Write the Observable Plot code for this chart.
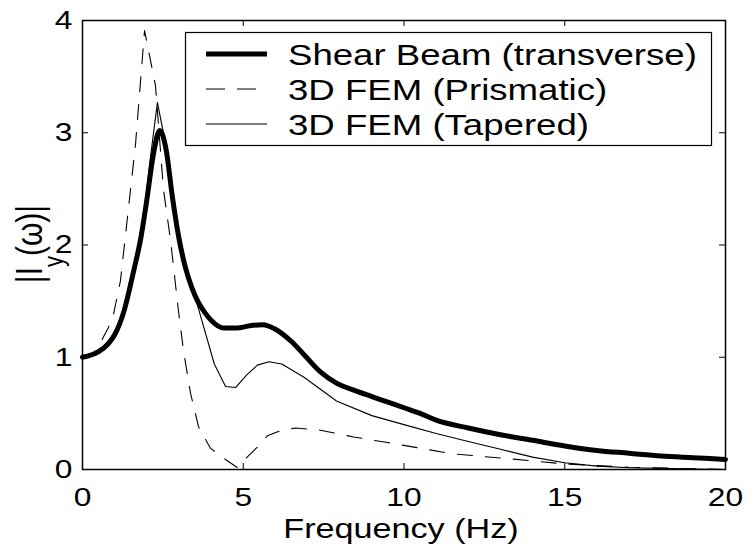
<!DOCTYPE html>
<html>
<head>
<meta charset="utf-8">
<script src="https://cdn.jsdelivr.net/npm/d3@7"></script>
<script src="https://cdn.jsdelivr.net/npm/@observablehq/plot@0.6"></script>
<style>
  html, body { margin: 0; padding: 0; background: #fff; }
</style>
</head>
<body>
<script>
// ---- data ----
const seriesNames = ["Shear Beam (transverse)", "3D FEM (Prismatic)", "3D FEM (Tapered)"];

const beamFreq = [0, 0.5, 0.8, 1.0, 1.3, 1.6, 1.8, 2.0, 2.2, 2.4, 2.6, 2.8, 3.0, 3.2, 3.4, 3.6, 3.8, 4.0, 4.4, 4.8, 5.2, 5.6, 6.0, 6.5, 6.9, 7.4, 7.9, 8.5, 9.0, 9.5, 10.0, 10.5, 11.0, 12.0, 13.0, 14.0, 15.0, 16.0, 17.0, 18.0, 19.0, 20.0];
const beamMag  = [1.00, 1.05, 1.12, 1.20, 1.42, 1.78, 2.04, 2.40, 2.80, 3.02, 2.85, 2.42, 2.06, 1.80, 1.62, 1.49, 1.40, 1.33, 1.26, 1.26, 1.28, 1.29, 1.25, 1.14, 1.02, 0.87, 0.77, 0.70, 0.65, 0.60, 0.55, 0.50, 0.44, 0.37, 0.31, 0.26, 0.21, 0.17, 0.145, 0.12, 0.105, 0.09];

const prisFreq = [0, 0.4, 0.65, 0.8, 0.97, 1.18, 1.4, 1.65, 1.93, 2.27, 2.52, 2.74, 2.97, 3.14, 3.36, 3.61, 3.98, 4.39, 4.8, 5.44, 5.75, 6.2, 6.63, 7.4, 8.43, 9.49, 10.5, 11.5, 13.1, 15.0, 17.0, 20.0];
const prisMag  = [1.00, 1.05, 1.18, 1.26, 1.39, 1.68, 2.25, 2.90, 3.91, 3.42, 2.49, 2.04, 1.45, 1.06, 0.68, 0.38, 0.19, 0.10, 0.02, 0.20, 0.30, 0.35, 0.37, 0.35, 0.29, 0.24, 0.19, 0.14, 0.10, 0.05, 0.02, 0.0];

const tapFreq = [0, 0.5, 1.0, 1.3, 1.6, 1.9, 2.1, 2.33, 2.55, 2.8, 3.0, 3.2, 3.4, 3.6, 4.1, 4.45, 4.76, 5.1, 5.44, 5.8, 6.2, 6.9, 7.9, 9.0, 10.0, 11.0, 12.0, 13.0, 14.0, 15.0, 16.0, 17.0, 18.0, 19.0, 20.0];
const tapMag  = [1.00, 1.05, 1.21, 1.43, 1.80, 2.25, 2.75, 3.27, 2.95, 2.50, 2.12, 1.85, 1.64, 1.44, 0.94, 0.74, 0.73, 0.84, 0.93, 0.96, 0.94, 0.82, 0.61, 0.48, 0.40, 0.32, 0.25, 0.18, 0.11, 0.06, 0.03, 0.015, 0.01, 0.005, 0.0];

const xTicks = [0, 5, 10, 15, 20];
const yTicks = [0, 1, 2, 3, 4];

// ---- tables ----
const beam = beamFreq.map((f, i) => ({f, v: beamMag[i]}));
const pris = prisFreq.map((f, i) => ({f, v: prisMag[i]}));
const tap  = tapFreq.map((f, i) => ({f, v: tapMag[i]}));

const W = 750, H = 547;
const mL = 82, mR = 25, mT = 20, mB = 78;
const plotW = W - mL - mR, plotH = H - mT - mB;
const tickLen = 6;
const stretch = 1.22;
const font = "'Liberation Sans', Arial, Helvetica, sans-serif";

const svg = Plot.plot({
  width: W, height: H,
  marginLeft: mL, marginRight: mR, marginTop: mT, marginBottom: mB,
  style: {fontFamily: font, fontSize: "26px", color: "black", background: "white"},
  x: {domain: [0, 20]},
  y: {domain: [0, 4]},
  marks: [
    Plot.axisX({ticks: xTicks, tickFormat: d3.format("d"), tickSize: 0, tickPadding: 18, label: null, fontSize: 26}),
    Plot.axisY({ticks: yTicks, tickFormat: d3.format("d"), tickSize: 0, tickPadding: 10, label: null, fontSize: 26}),
    // inward ticks on all four sides
    Plot.tickX(xTicks, {x: d => d, insetTop: plotH - tickLen, stroke: "black"}),
    Plot.tickX(xTicks, {x: d => d, insetBottom: plotH - tickLen, stroke: "black"}),
    Plot.tickY(yTicks, {y: d => d, insetRight: plotW - tickLen, stroke: "black"}),
    Plot.tickY(yTicks, {y: d => d, insetLeft: plotW - tickLen, stroke: "black"}),
    Plot.line(pris, {x: "f", y: "v", stroke: "black", strokeWidth: 1.1, strokeDasharray: "15,13", curve: "linear"}),
    Plot.line(tap,  {x: "f", y: "v", stroke: "black", strokeWidth: 1.1, curve: "linear"}),
    Plot.line(beam, {x: "f", y: "v", stroke: "black", strokeWidth: 5, curve: "monotone-x", strokeLinejoin: "round"}),
    Plot.frame({stroke: "black", strokeWidth: 1.5})
  ]
});
document.body.appendChild(svg);

// horizontally stretch tick labels (the reference text is wider than tall)
svg.querySelectorAll('g[aria-label="x-axis tick label"] text, g[aria-label="y-axis tick label"] text').forEach(t => {
  const w = t.getComputedTextLength();
  t.setAttribute("textLength", w * stretch);
  t.setAttribute("lengthAdjust", "spacingAndGlyphs");
});

const s = d3.select(svg);

// x label
const xl = s.append("text")
  .attr("x", 401).attr("y", 538)
  .attr("text-anchor", "middle")
  .attr("font-family", font).attr("font-size", 28).attr("fill", "black")
  .text("Frequency (Hz)");
{
  const n = xl.node();
  n.setAttribute("textLength", n.getComputedTextLength() * stretch);
  n.setAttribute("lengthAdjust", "spacingAndGlyphs");
}

// y label |I_y(ω)|
const yl = s.append("text")
  .attr("transform", `translate(42,244) scale(${stretch},1) rotate(-90)`)
  .attr("text-anchor", "middle")
  .attr("font-family", font).attr("font-size", 30).attr("fill", "black");
yl.append("tspan").text("|I");
yl.append("tspan").attr("font-size", 22).attr("dy", 17).text("y");
yl.append("tspan").attr("dy", -17).text("(ω)|");

// legend box inside the plot
const lg = s.append("g").attr("text-anchor", "start");
lg.append("rect").attr("x", 185.5).attr("y", 32.5).attr("width", 526).attr("height", 113)
  .attr("fill", "white").attr("stroke", "black").attr("stroke-width", 1.2);
const rowsY = [54, 89, 124];
const styles = [
  {w: 5, dash: null},
  {w: 1.1, dash: "19,12"},
  {w: 1.1, dash: null}
];
seriesNames.forEach((name, i) => {
  const ln = lg.append("line").attr("x1", 206).attr("x2", 267).attr("y1", rowsY[i]).attr("y2", rowsY[i])
    .attr("stroke", "black").attr("stroke-width", styles[i].w);
  if (styles[i].dash) ln.attr("stroke-dasharray", styles[i].dash);
  const t = lg.append("text").attr("x", 288).attr("y", rowsY[i] + 10.5)
    .attr("text-anchor", "start")
    .attr("font-family", font).attr("font-size", 30).attr("fill", "black").text(name);
  const n = t.node();
  n.setAttribute("textLength", n.getComputedTextLength() * stretch);
  n.setAttribute("lengthAdjust", "spacingAndGlyphs");
});
</script>
</body>
</html>
